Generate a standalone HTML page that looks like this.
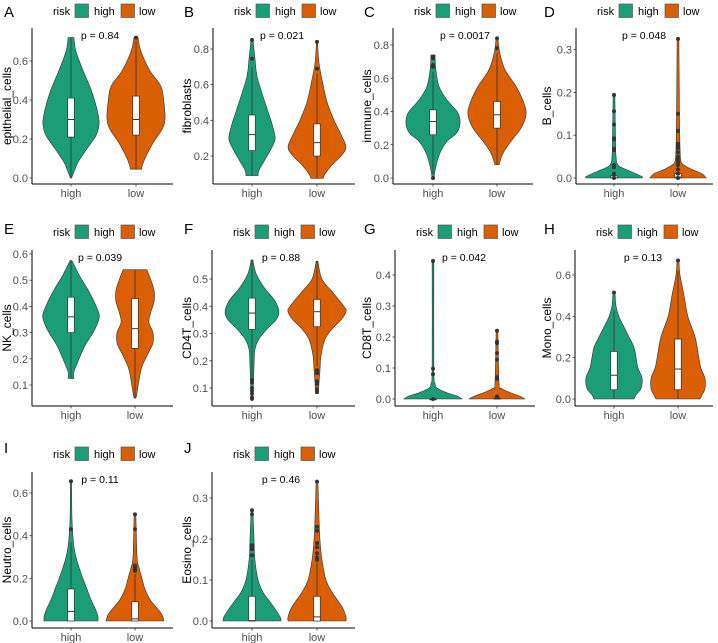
<!DOCTYPE html>
<html><head><meta charset="utf-8">
<style>
html,body{margin:0;padding:0;background:#fff;}
svg{display:block;font-family:"Liberation Sans",Arial,sans-serif;}
</style></head>
<body>
<svg id="chart" width="718" height="643" viewBox="0 0 718 643" xmlns="http://www.w3.org/2000/svg"></svg>
<script>
const A_high_profile = [[0.72,0.1],[0.65,0.17],[0.55,0.42],[0.45,0.7],[0.35,0.9],[0.28,0.97],[0.22,0.87],[0.15,0.55],[0.08,0.24],[0.03,0.1],[0,0.02]];
const A_low_profile = [[0.72,0.07],[0.65,0.17],[0.55,0.48],[0.47,0.86],[0.38,0.97],[0.30,1.0],[0.25,0.9],[0.18,0.59],[0.10,0.31],[0.06,0.21],[0.045,0.2]];
const A_high_box = [0.21,0.30,0.41,0.0,0.72];
const A_low_box = [0.22,0.30,0.42,0.045,0.70];
const A_high_out = [];
const A_low_out = [0.72];

const B_high_profile = [[0.86,0.03],[0.75,0.1],[0.65,0.17],[0.55,0.35],[0.45,0.55],[0.38,0.69],[0.30,0.8],[0.25,0.69],[0.18,0.45],[0.12,0.24],[0.09,0.21]];
const B_low_profile = [[0.84,0.02],[0.72,0.07],[0.6,0.21],[0.5,0.35],[0.4,0.59],[0.32,0.83],[0.25,1.0],[0.2,0.83],[0.15,0.52],[0.1,0.28],[0.075,0.21]];
const B_high_box = [0.23,0.32,0.43,0.09,0.70];
const B_low_box = [0.20,0.275,0.38,0.075,0.66];
const B_high_out = [0.85,0.745];
const B_low_out = [0.84,0.69];

const C_high_profile = [[0.74,0.07],[0.65,0.1],[0.55,0.21],[0.47,0.48],[0.40,0.83],[0.35,0.93],[0.30,0.9],[0.26,0.76],[0.22,0.48],[0.15,0.24],[0.07,0.1],[0,0.03]];
const C_low_profile = [[0.84,0.03],[0.75,0.1],[0.65,0.28],[0.55,0.66],[0.45,0.93],[0.38,1.0],[0.3,0.83],[0.22,0.48],[0.15,0.21],[0.08,0.07]];
const C_high_box = [0.26,0.34,0.41,0.02,0.64];
const C_low_box = [0.30,0.38,0.46,0.08,0.75];
const C_high_out = [0.73,0.72,0.68,0.67,0.0];
const C_low_out = [0.84,0.78];

const D_high_profile = [[0.195,0.03],[0.1,0.05],[0.05,0.07],[0.03,0.14],[0.02,0.41],[0.01,0.76],[0.003,0.97],[0,0.97]];
const D_low_profile = [[0.325,0.03],[0.15,0.05],[0.07,0.07],[0.04,0.1],[0.03,0.21],[0.02,0.48],[0.01,0.83],[0,0.97]];
const D_high_box = [0.0,0.0,0.005,0.0,0.01];
const D_low_box = [0.0,0.002,0.01,0.0,0.02];
const D_high_out = [0.194,0.156,0.125,0.093,0.09,0.068,0.065,0.03,0.025,0.01,0];
const D_low_out = [0.325,0.15,0.11,0.08,0.075,0.07,0.06,0.05,0.045,0.04,0.035,0.03,0.02,0.01,0];

const E_high_profile = [[0.575,0.03],[0.52,0.28],[0.47,0.55],[0.42,0.79],[0.37,0.97],[0.34,0.93],[0.30,0.76],[0.25,0.48],[0.20,0.28],[0.15,0.1],[0.125,0.1]];
const E_low_profile = [[0.54,0.41],[0.50,0.55],[0.46,0.66],[0.42,0.66],[0.38,0.55],[0.34,0.48],[0.30,0.62],[0.26,0.62],[0.22,0.45],[0.17,0.24],[0.12,0.14],[0.07,0.07],[0.05,0.03]];
const E_high_box = [0.30,0.36,0.435,0.125,0.575];
const E_low_box = [0.24,0.315,0.43,0.05,0.54];
const E_high_out = [];
const E_low_out = [];

const F_high_profile = [[0.57,0.03],[0.52,0.14],[0.47,0.41],[0.42,0.79],[0.38,0.93],[0.35,0.83],[0.32,0.55],[0.28,0.24],[0.24,0.1],[0.18,0.07],[0.12,0.05],[0.055,0.03]];
const F_low_profile = [[0.565,0.03],[0.5,0.17],[0.45,0.55],[0.40,0.93],[0.38,1.0],[0.35,0.83],[0.32,0.55],[0.28,0.28],[0.22,0.14],[0.16,0.1],[0.12,0.07],[0.08,0.05]];
const F_high_box = [0.315,0.375,0.43,0.14,0.57];
const F_low_box = [0.325,0.38,0.425,0.18,0.565];
const F_high_out = [0.13,0.12,0.10,0.09,0.08,0.065,0.06];
const F_low_out = [0.165,0.155,0.125,0.115,0.095,0.085];

const G_high_profile = [[0.445,0.03],[0.1,0.03],[0.05,0.07],[0.035,0.14],[0.02,0.48],[0.01,0.83],[0,1.0]];
const G_low_profile = [[0.22,0.03],[0.05,0.07],[0.035,0.14],[0.025,0.34],[0.01,0.76],[0,0.97]];
const G_high_box = [0.0,0.0,0.0,0.0,0.0];
const G_low_box = [0.0,0.0,0.003,0.0,0.006];
const G_high_out = [0.445,0.098,0.08,0];
const G_low_out = [0.22,0.185,0.18,0.148,0.127,0.07,0.065,0.008,0.005];

const H_high_profile = [[0.52,0.03],[0.45,0.07],[0.4,0.17],[0.35,0.34],[0.3,0.52],[0.25,0.69],[0.2,0.76],[0.15,0.83],[0.1,0.97],[0.05,0.93],[0.02,0.76],[0,0.69]];
const H_low_profile = [[0.67,0.03],[0.6,0.07],[0.5,0.21],[0.4,0.34],[0.3,0.59],[0.2,0.72],[0.15,0.79],[0.1,0.93],[0.05,0.93],[0.02,0.83],[0,0.76]];
const H_high_box = [0.045,0.115,0.23,0.0,0.43];
const H_low_box = [0.045,0.145,0.29,0.0,0.62];
const H_high_out = [0.515];
const H_low_out = [0.67];

const I_high_profile = [[0.655,0.02],[0.5,0.03],[0.43,0.05],[0.35,0.1],[0.3,0.17],[0.25,0.28],[0.2,0.41],[0.15,0.55],[0.1,0.69],[0.05,0.86],[0.02,0.93],[0,0.93]];
const I_low_profile = [[0.5,0.03],[0.3,0.07],[0.25,0.14],[0.2,0.24],[0.15,0.34],[0.1,0.52],[0.06,0.76],[0.03,0.93],[0,1.0]];
const I_high_box = [0.0,0.045,0.15,0.0,0.37];
const I_low_box = [0.0,0.01,0.09,0.0,0.22];
const I_high_out = [0.655,0.43];
const I_low_out = [0.5,0.43,0.26,0.25,0.24,0.235];

const J_high_profile = [[0.27,0.03],[0.2,0.07],[0.15,0.1],[0.1,0.21],[0.07,0.38],[0.05,0.59],[0.03,0.79],[0.01,0.97],[0,1.0]];
const J_low_profile = [[0.34,0.03],[0.25,0.07],[0.2,0.1],[0.15,0.17],[0.1,0.31],[0.07,0.52],[0.05,0.72],[0.03,0.9],[0.01,1.0],[0,1.0]];
const J_high_box = [0.0,0.001,0.06,0.0,0.15];
const J_low_box = [0.0,0.01,0.06,0.0,0.15];
const J_high_out = [0.27,0.26,0.185,0.18,0.175,0.16];
const J_low_out = [0.34,0.23,0.22,0.19,0.18,0.165,0.155,0.15];

const A_ticks = [0.0,0.2,0.4,0.6];
const B_ticks = [0.2,0.4,0.6,0.8];
const C_ticks = [0.0,0.2,0.4,0.6,0.8];
const D_ticks = [0.0,0.1,0.2,0.3];
const E_ticks = [0.1,0.2,0.3,0.4,0.5,0.6];
const F_ticks = [0.1,0.2,0.3,0.4,0.5];
const G_ticks = [0.0,0.1,0.2,0.3,0.4];
const H_ticks = [0.0,0.2,0.4,0.6];
const I_ticks = [0.0,0.2,0.4,0.6];
const J_ticks = [0.0,0.1,0.2,0.3];

const groups = ["high","low"];
const pvalues = ["p = 0.84","p = 0.021","p = 0.0017","p = 0.048","p = 0.039","p = 0.88","p = 0.042","p = 0.13","p = 0.11","p = 0.46"];
const titles = ["epithelial_cells","fibroblasts","immune_cells","B_cells","NK_cells","CD4T_cells","CD8T_cells","Mono_cells","Neutro_cells","Eosino_cells"];

const rows = [
  {legendY:11, letterY:17, top:28, axisY:184},
  {legendY:232, letterY:234, top:250, axisY:406},
  {legendY:454, letterY:453, top:472, axisY:628}
];
const panels = [
  {id:"A",col:0,  row:0,axisX:32, right:173,hx:71, lx:136,v0:0,  p0:178,v1:0.6,p1:61,  px:100,ticks:A_ticks,prof:[A_high_profile,A_low_profile],box:[A_high_box,A_low_box],out:[A_high_out,A_low_out]},
  {id:"B",col:180,row:0,axisX:213,right:355,hx:252,lx:317,v0:0.2,p0:156,v1:0.8,p1:49,  px:282,ticks:B_ticks,prof:[B_high_profile,B_low_profile],box:[B_high_box,B_low_box],out:[B_high_out,B_low_out]},
  {id:"C",col:360,row:0,axisX:393,right:533,hx:433,lx:497,v0:0,  p0:178,v1:0.8,p1:45,  px:465,ticks:C_ticks,prof:[C_high_profile,C_low_profile],box:[C_high_box,C_low_box],out:[C_high_out,C_low_out]},
  {id:"D",col:540,row:0,axisX:576,right:713,hx:614,lx:678,v0:0,  p0:178,v1:0.3,p1:49.6,px:644,ticks:D_ticks,prof:[D_high_profile,D_low_profile],box:[D_high_box,D_low_box],out:[D_high_out,D_low_out]},
  {id:"E",col:0,  row:1,axisX:32, right:173,hx:71, lx:135,v0:0.1,p0:385,v1:0.6,p1:254, px:100,ticks:E_ticks,prof:[E_high_profile,E_low_profile],box:[E_high_box,E_low_box],out:[E_high_out,E_low_out]},
  {id:"F",col:180,row:1,axisX:212,right:355,hx:252,lx:317,v0:0.1,p0:388,v1:0.5,p1:279, px:281,ticks:F_ticks,prof:[F_high_profile,F_low_profile],box:[F_high_box,F_low_box],out:[F_high_out,F_low_out]},
  {id:"G",col:360,row:1,axisX:395,right:535,hx:433,lx:497,v0:0,  p0:399,v1:0.4,p1:275, px:464,ticks:G_ticks,prof:[G_high_profile,G_low_profile],box:[G_high_box,G_low_box],out:[G_high_out,G_low_out]},
  {id:"H",col:540,row:1,axisX:575,right:713,hx:614,lx:678,v0:0,  p0:399,v1:0.6,p1:275, px:643,ticks:H_ticks,prof:[H_high_profile,H_low_profile],box:[H_high_box,H_low_box],out:[H_high_out,H_low_out]},
  {id:"I",col:0,  row:2,axisX:32, right:173,hx:71, lx:135,v0:0,  p0:621,v1:0.6,p1:493, px:100,ticks:I_ticks,prof:[I_high_profile,I_low_profile],box:[I_high_box,I_low_box],out:[I_high_out,I_low_out]},
  {id:"J",col:180,row:2,axisX:212,right:355,hx:252,lx:317,v0:0,  p0:621,v1:0.3,p1:498, px:281,ticks:J_ticks,prof:[J_high_profile,J_low_profile],box:[J_high_box,J_low_box],out:[J_high_out,J_low_out]}
];
const colors = ["#1B9E77","#D95F02"];
const MAXW = 29, BOXW = 6.5;
const NS = "http://www.w3.org/2000/svg";
const svg = document.getElementById("chart");

function mk(tag, attrs, parent, text){
  const e = document.createElementNS(NS, tag);
  for (const k in attrs) e.setAttribute(k, attrs[k]);
  if (text !== undefined) e.textContent = text;
  parent.appendChild(e);
  return e;
}
function catmull(pts){
  let d = "M" + pts[0][0].toFixed(2) + "," + pts[0][1].toFixed(2);
  for (let i = 0; i < pts.length - 1; i++){
    const p0 = pts[i-1] || pts[i], p1 = pts[i], p2 = pts[i+1], p3 = pts[i+2] || p2;
    const c1 = [p1[0] + (p2[0]-p0[0])/6, p1[1] + (p2[1]-p0[1])/6];
    const c2 = [p2[0] - (p3[0]-p1[0])/6, p2[1] - (p3[1]-p1[1])/6];
    d += " C" + c1[0].toFixed(2)+","+c1[1].toFixed(2)+" "+c2[0].toFixed(2)+","+c2[1].toFixed(2)+" "+p2[0].toFixed(2)+","+p2[1].toFixed(2);
  }
  return d;
}

panels.forEach((p, idx) => {
  const r = rows[p.row];
  const y = v => p.p0 + (v - p.v0) * (p.p1 - p.p0) / (p.v1 - p.v0);
  const g = mk("g", {}, svg);
  
  

  const letter = mk("text", {x:p.col+4, y:r.letterY, "font-size":15, fill:"#000"}, g, p.id);
  
  

  const lg = mk("g", {}, g);
  
  
  const lx = p.axisX + 21;
  mk("text", {x:lx, y:r.legendY+4, "font-size":11, fill:"#000"}, lg, "risk");
  const e1 = mk("rect", {x:lx+22, y:r.legendY-7, width:13.5, height:13.5, fill:colors[0], stroke:"#555", "stroke-width":0.7}, lg);
  
  
  mk("text", {x:lx+41, y:r.legendY+4, "font-size":11, fill:"#000"}, lg, "high");
  const e2 = mk("rect", {x:lx+68, y:r.legendY-7, width:13.5, height:13.5, fill:colors[1], stroke:"#555", "stroke-width":0.7}, lg);
  
  
  mk("text", {x:lx+86, y:r.legendY+4, "font-size":11, fill:"#000"}, lg, "low");

  const ya = mk("line", {x1:p.axisX, y1:r.top, x2:p.axisX, y2:r.axisY, stroke:"#000", "stroke-width":1}, g);
  
  
  const xa = mk("line", {x1:p.axisX, y1:r.axisY, x2:p.right, y2:r.axisY, stroke:"#000", "stroke-width":1}, g);
  
  
  p.ticks.forEach(t => {
    const ty = y(t);
    mk("line", {x1:p.axisX-2.5, y1:ty, x2:p.axisX, y2:ty, stroke:"#333", "stroke-width":0.8}, g);
    const tl = mk("text", {x:p.axisX-4, y:ty+4, "font-size":11, fill:"#4d4d4d", "text-anchor":"end"}, g, t.toFixed(1));
    
    
  });
  const yt = mk("text", {x:0, y:0, "font-size":12, fill:"#000", "text-anchor":"middle", transform:"translate("+(p.col+11)+","+((r.top+r.axisY)/2)+") rotate(-90)"}, g, titles[idx]);
  
  

  const centers = [p.hx, p.lx];
  groups.forEach((grp, gi) => {
    const cx = centers[gi];
    mk("line", {x1:cx, y1:r.axisY, x2:cx, y2:r.axisY+2.5, stroke:"#333", "stroke-width":0.8}, g);
    const xl = mk("text", {x:cx, y:r.axisY+13, "font-size":11, fill:"#4d4d4d", "text-anchor":"middle"}, g, grp);
    
    

    const prof = p.prof[gi];
    const right = prof.map(d => [cx + d[1]*MAXW, y(d[0])]);
    const left = prof.slice().reverse().map(d => [cx - d[1]*MAXW, y(d[0])]);
    const top = prof[0];
    let d = "M" + cx + "," + y(top[0]) + " L" + right[0][0] + "," + right[0][1];
    d += catmull(right).replace(/^M[^ ]+/, "");
    d += " L" + left[0][0] + "," + left[0][1];
    d += catmull(left).replace(/^M[^ ]+/, "");
    d += " Z";
    const vio = mk("path", {d:d, fill:colors[gi], stroke:"#333", "stroke-width":0.6}, g);
    
    

    const b = p.box[gi];
    mk("line", {x1:cx, y1:y(b[4]), x2:cx, y2:y(b[2]), stroke:"#333", "stroke-width":0.8}, g);
    mk("line", {x1:cx, y1:y(b[0]), x2:cx, y2:y(b[3]), stroke:"#333", "stroke-width":0.8}, g);
    const bh = Math.max(0.8, y(b[0]) - y(b[2]));
    const bx = mk("rect", {x:cx-BOXW/2, y:y(b[2]), width:BOXW, height:bh, fill:"#fff", stroke:"#333", "stroke-width":0.7}, g);
    
    
    mk("line", {x1:cx-BOXW/2, y1:y(b[1]), x2:cx+BOXW/2, y2:y(b[1]), stroke:"#333", "stroke-width":1}, g);
    p.out[gi].forEach(o => {
      const c = mk("circle", {cx:cx, cy:y(o), r:2, fill:"#333"}, g);
      
      
    });
  });

  const pt = mk("text", {x:p.px, y:r.top+11, "font-size":10.5, fill:"#000", "text-anchor":"middle"}, g, pvalues[idx]);
  
  
});
</script>
</body></html>
